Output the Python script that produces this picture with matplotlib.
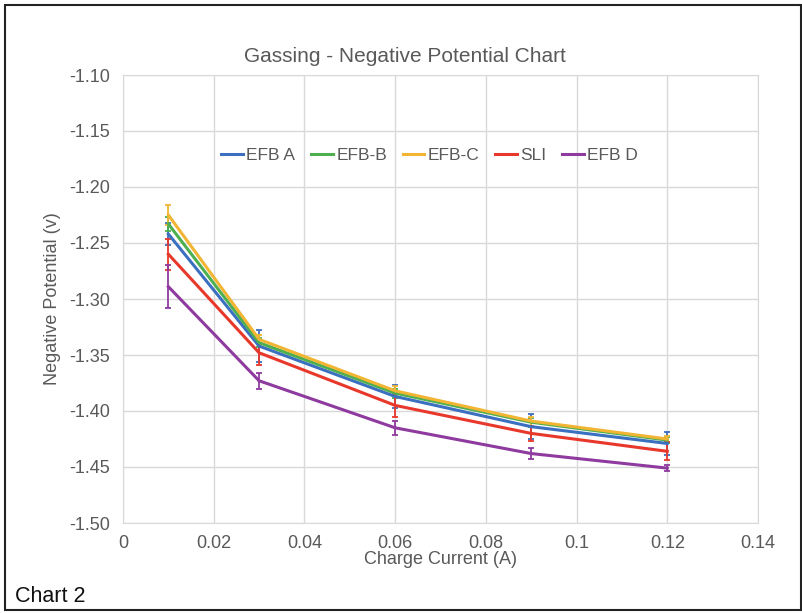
import matplotlib
matplotlib.use("Agg")
import matplotlib.pyplot as plt
from matplotlib.lines import Line2D
from matplotlib.patches import Rectangle

plt.rcParams['font.family'] = ['Liberation Sans', 'DejaVu Sans']

current = [0.01, 0.03, 0.06, 0.09, 0.12]
series_names = ["EFB A", "EFB-B", "EFB-C", "SLI", "EFB D"]
efb_a = [-1.242, -1.342, -1.387, -1.414, -1.429]
efb_b = [-1.233, -1.339, -1.384, -1.410, -1.426]
efb_c = [-1.225, -1.336, -1.382, -1.409, -1.425]
sli   = [-1.260, -1.348, -1.395, -1.420, -1.436]
efb_d = [-1.289, -1.373, -1.415, -1.438, -1.451]
err_a = [0.010, 0.014, 0.010, 0.011, 0.010]
err_b = [0.006, 0.004, 0.004, 0.004, 0.003]
err_c = [0.009, 0.004, 0.004, 0.004, 0.003]
err_sli = [0.014, 0.011, 0.010, 0.007, 0.008]
err_d = [0.019, 0.007, 0.006, 0.005, 0.003]
colors = ["#3b6fc0", "#4caf50", "#f2b533", "#e8382b", "#8e3a9e"]

fig = plt.figure(figsize=(8.03, 6.13), dpi=100)
ax = fig.add_axes([123/803, 1-523/613, (758-123)/803, (523-75)/613])

data = [efb_a, efb_b, efb_c, sli, efb_d]
errs = [err_a, err_b, err_c, err_sli, err_d]
handles = []
for name, y, e, c in zip(series_names, data, errs, colors):
    ax.errorbar(current, y, yerr=e, color=c, lw=2.2, elinewidth=1.3,
                capsize=2.5, capthick=1.3)
    handles.append(Line2D([], [], color=c, lw=2.2, label=name))

ax.set_xlim(0, 0.14)
ax.set_ylim(-1.50, -1.10)
ax.set_xticks([0, 0.02, 0.04, 0.06, 0.08, 0.1, 0.12, 0.14])
ax.set_xticklabels(["0", "0.02", "0.04", "0.06", "0.08", "0.1", "0.12", "0.14"])
yt = [-1.50, -1.45, -1.40, -1.35, -1.30, -1.25, -1.20, -1.15, -1.10]
ax.set_yticks(yt)
ax.set_yticklabels([f"{v:.2f}" for v in yt])
ax.grid(True, color="#d9d9d9", lw=1)
ax.set_axisbelow(True)
for s in ax.spines.values():
    s.set_color("#d9d9d9")
ax.tick_params(length=0, labelsize=13, colors="#595959", pad=9)
ax.set_xlabel("Charge Current (A)", fontsize=13, color="#595959", labelpad=-1)
ax.set_ylabel("Negative Potential (v)", fontsize=13, color="#595959", labelpad=6)
fig.text(405/803, 1-57/613, "Gassing - Negative Potential Chart", fontsize=15,
         color="#595959", ha="center", va="center")
ax.legend(handles=handles, loc="center", bbox_to_anchor=(0.483, 0.821), ncol=5, frameon=False,
          fontsize=12.5, labelcolor="#595959", handlelength=1.25, handletextpad=0.2,
          columnspacing=0.9)

fig.text(15/803, 1-596/613, "Chart 2", fontsize=15.5, color="#111111", va="center")
fig.patches.append(Rectangle((5/803, 3/613), 796/803, 605/613, transform=fig.transFigure,
                             fill=False, edgecolor="#222222", lw=1.5))

fig.savefig("out.png", dpi=100)
